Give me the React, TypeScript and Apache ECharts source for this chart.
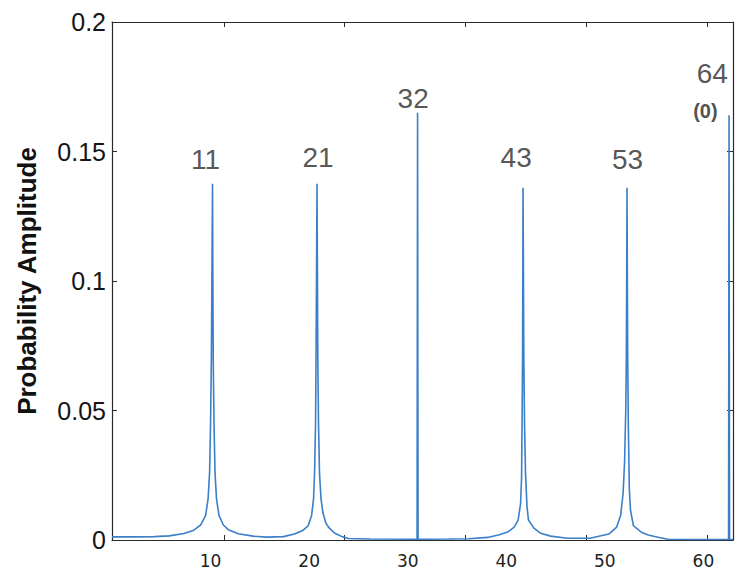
import React, { useEffect, useRef } from "react";
import * as echarts from "echarts";

// Probability amplitude curve (x in state units on a 0..63 axis)
const curveX = [
  0, 2, 4.3, 5.8, 7.3, 8.3, 9.0, 9.5, 9.75, 9.9, 10.0, 10.08, 10.14, 10.2, 10.23, 10.27, 10.35, 10.45, 10.6, 10.85, 11.3, 11.8, 12.8, 14.3, 15.7,
  17.4, 18.5, 19.4, 19.9, 20.25, 20.45, 20.55, 20.65, 20.7, 20.75, 20.8, 20.84, 20.88, 20.95, 21.05, 21.2, 21.4, 21.7, 22.0, 22.6, 23.4, 24.0,
  26.2, 30.95, 31.0, 31.05, 34.2, 36.2,
  38.1, 39.3, 40.2, 40.8, 41.2, 41.45, 41.55, 41.6, 41.65, 41.68, 41.7, 41.74, 41.78, 41.85, 41.95, 42.1, 42.25, 42.8, 43.5, 44.5, 46.2, 48.5,
  50.4, 51.2, 51.6, 51.85, 52.0, 52.12, 52.18, 52.22, 52.25, 52.28, 52.32, 52.38, 52.48, 52.6, 52.9, 53.7, 54.4, 55.5, 56.4,
  58.5, 62.55, 62.6, 62.65, 63.0,
];
const curveY = [
  0.0012, 0.0012, 0.0013, 0.0016, 0.0025, 0.0038, 0.0058, 0.0095, 0.016, 0.026, 0.045, 0.07, 0.103, 0.1375, 0.103, 0.07, 0.045, 0.026, 0.016, 0.0095, 0.0058, 0.004, 0.0024, 0.0015, 0.0011,
  0.0013, 0.0023, 0.0038, 0.0055, 0.0095, 0.016, 0.026, 0.045, 0.07, 0.103, 0.1375, 0.103, 0.07, 0.045, 0.026, 0.016, 0.0105, 0.0065, 0.0048, 0.0026, 0.0012, 0.0006,
  0.0004, 0.0003, 0.165, 0.0003, 0.0004, 0.0005,
  0.001, 0.002, 0.0032, 0.005, 0.0077, 0.014, 0.024, 0.045, 0.07, 0.103, 0.136, 0.103, 0.07, 0.045, 0.026, 0.013, 0.0077, 0.0046, 0.0026, 0.0015, 0.0007, 0.0007,
  0.0023, 0.005, 0.0095, 0.018, 0.03, 0.05, 0.07, 0.103, 0.136, 0.103, 0.07, 0.045, 0.02, 0.0115, 0.0055, 0.003, 0.0019, 0.001, 0.0003,
  0.0002, 0.0002, 0.164, 0.0002, 0.0002,
];

// Handwritten tick labels and peak annotations
const xTickLabels = ["10", "20", "30", "40", "50", "60"];
const yTickLabels = ["0", "0.05", "0.1", "0.15", "0.2"];
const annText = ["11", "21", "32", "43", "53", "64", "(0)"];
const annX = [9.5, 20.9, 30.55, 41.0, 52.3, 60.9, 60.2];
const annY = [0.147, 0.1476, 0.1705, 0.1476, 0.147, 0.18, 0.1655];

const AXIS = "#2a2a2a";

export default function App() {
  const ref = useRef<HTMLDivElement>(null);

  useEffect(() => {
    if (!ref.current) return;
    const chart = echarts.init(ref.current, null, { renderer: "svg" });

    const tickAxisBase = {
      type: "value" as const,
      min: 0.74,
      max: 52.13,
      axisLine: { show: false, onZero: false },
      axisTick: { show: true, inside: true, length: 5, lineStyle: { color: AXIS, width: 1 } },
      axisLabel: { show: false },
      splitLine: { show: false },
    };

    chart.setOption({
      animation: false,
      backgroundColor: "#ffffff",
      grid: { left: 112, top: 22, width: 627, height: 518 },
      xAxis: [
        {
          type: "value",
          min: 0,
          max: 63,
          interval: 10,
          position: "bottom",
          axisLine: { show: true, onZero: false, lineStyle: { color: AXIS, width: 1.2 } },
          axisTick: { show: false },
          splitLine: { show: false },
          axisLabel: {
            margin: 12,
            fontSize: 17,
            fontFamily: "DejaVu Sans",
            color: "#222",
            formatter: (v: number) => {
              const s = String(v);
              return xTickLabels.includes(s) ? s : "";
            },
          },
        },
        { ...tickAxisBase, position: "bottom" },
        {
          ...tickAxisBase,
          position: "top",
          axisLine: { show: true, onZero: false, lineStyle: { color: AXIS, width: 1.2 } },
        },
      ],
      yAxis: [
        {
          type: "value",
          min: 0,
          max: 0.2,
          interval: 0.05,
          position: "left",
          name: "Probability Amplitude",
          nameLocation: "middle",
          nameGap: 72,
          nameTextStyle: {
            fontFamily: "Liberation Sans",
            fontWeight: "bold",
            fontSize: 26,
            color: "#111",
          },
          axisLine: { show: true, lineStyle: { color: AXIS, width: 1.2 } },
          axisTick: { show: true, inside: true, length: 5, lineStyle: { color: AXIS } },
          splitLine: { show: false },
          axisLabel: {
            margin: 6,
            fontSize: 25,
            fontFamily: "Liberation Sans",
            color: "#151515",
            formatter: (v: number) => {
              const s = yTickLabels.find((l) => Math.abs(parseFloat(l) - v) < 1e-9);
              return s ?? "";
            },
          },
        },
        {
          type: "value",
          min: 0,
          max: 0.2,
          interval: 0.05,
          position: "right",
          axisLine: { show: true, lineStyle: { color: AXIS, width: 1.2 } },
          axisTick: { show: true, inside: true, length: 6, lineStyle: { color: AXIS } },
          axisLabel: { show: false },
          splitLine: { show: false },
        },
      ],
      series: [
        {
          name: "amplitude",
          type: "line",
          xAxisIndex: 0,
          yAxisIndex: 0,
          showSymbol: false,
          symbol: "none",
          data: curveX.map((x, i) => [x, curveY[i]]),
          lineStyle: { color: "#3a7fc8", width: 1.6 },
          z: 3,
        },
        {
          name: "annotations",
          type: "scatter",
          xAxisIndex: 0,
          yAxisIndex: 0,
          symbolSize: 0,
          silent: true,
          data: annX.map((x, i) => ({
            value: [x, annY[i]],
            name: annText[i],
            label: annText[i] === "(0)" ? { fontSize: 20, fontWeight: "bold", color: "#222" } : {},
          })),
          label: {
            show: true,
            position: "inside",
            align: "center",
            verticalAlign: "middle",
            formatter: (p: any) => p.name,
            fontFamily: "Liberation Sans",
            color: "#2a2a2a",
            fontSize: 28,
          },
        },
      ],
    });

    return () => chart.dispose();
  }, []);

  return (
    <div
      ref={ref}
      style={{ position: "fixed", left: 0, top: 0, width: 736, height: 577, background: "#fff" }}
    />
  );
}
